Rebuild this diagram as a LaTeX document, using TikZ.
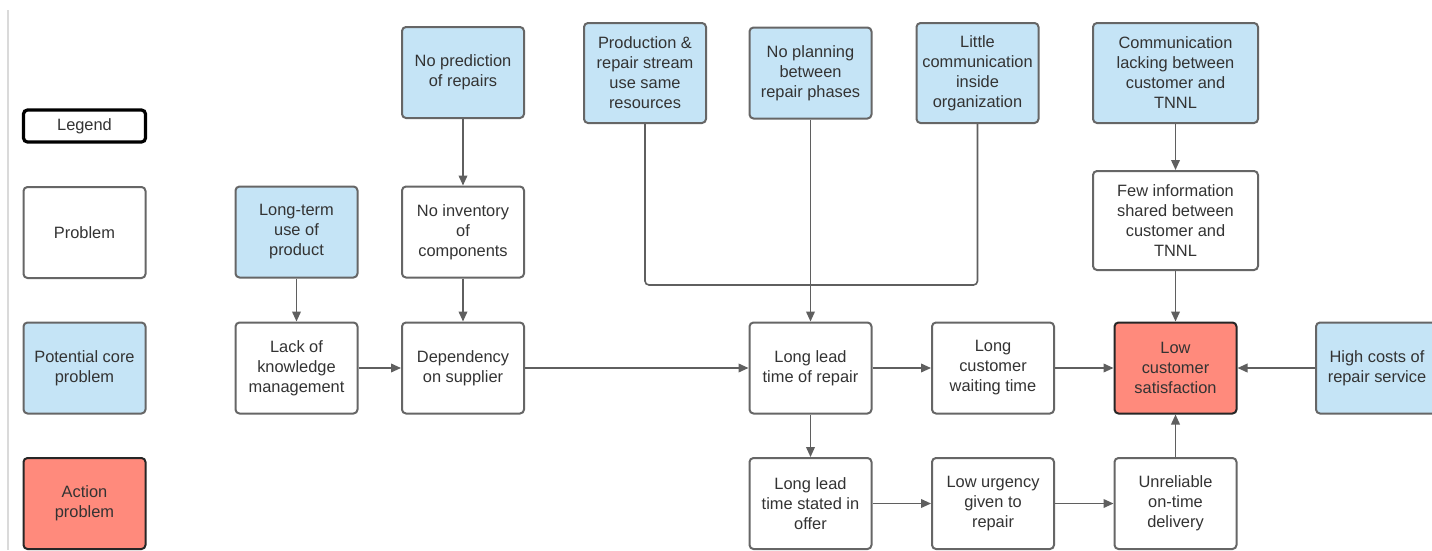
\documentclass[tikz,border=0pt]{standalone}
\usepackage{fontspec}
\setmainfont{Liberation Sans}
\usetikzlibrary{arrows.meta}
\definecolor{edge}{HTML}{666666}
\definecolor{ink}{HTML}{333333}
\definecolor{wire}{HTML}{5F5F5F}
\definecolor{core}{HTML}{C5E4F6}
\definecolor{act}{HTML}{FF8A7C}
\definecolor{rule}{HTML}{DADADA}
\begin{document}
\begin{tikzpicture}[x=0.75pt,y=-0.75pt,
  box/.style={draw=edge, line width=1.5pt, rounded corners=3pt, fill=white,
    minimum width=91.5pt, minimum height=68.25pt, inner sep=0pt,
    align=center, text=ink, font=\fontsize{12.3pt}{15pt}\selectfont},
  corebox/.style={box, fill=core},
  actbox/.style={box, fill=act, draw=black!85},
  legendbox/.style={box, draw=black, line width=2.4pt, minimum height=24pt},
  tall/.style={minimum height=75pt},
  wide/.style={minimum width=123.75pt},
  link/.style={draw=wire, line width=1.2pt, -{Triangle[length=7.5pt,width=6.5pt]}},
  mergeline/.style={draw=wire, line width=1.2pt, rounded corners=3pt}]
\useasboundingbox (0,0) rectangle (1432,550);
\fill[white] (0,0) rectangle (1432,550);
\draw[rule, line width=0.8pt] (8,10) -- (8,550);

% legend column
\node[legendbox] (legend) at (84.5,126) {Legend};
\node[box] (lgprob) at (84.5,232.5) {Problem};
\node[corebox] (lgcore) at (84.5,368) {Potential core\\problem};
\node[actbox] (lgact) at (84.5,503.5) {Action\\problem};

% causes on the left
\node[corebox] (longterm) at (296.5,232) {Long-term\\use of\\product};
\node[box] (lack) at (296.5,368) {Lack of\\knowledge\\management};
\node[corebox] (nopred) at (463,72.5) {No prediction\\of repairs};
\node[box] (noinv) at (463,232) {No inventory\\of\\components};
\node[box] (dep) at (463,368) {Dependency\\on supplier};

% top row of causes
\node[corebox,tall] (prod) at (645,73) {Production \&\\repair stream\\use same\\resources};
\node[corebox] (noplan) at (810.5,73) {No planning\\between\\repair phases};
\node[corebox,tall] (little) at (977.5,73) {Little\\communication\\inside\\organization};
\node[corebox,tall,wide] (commlack) at (1175.5,73) {Communication\\lacking between\\customer and\\TNNL};
\node[box,wide,minimum height=74.25pt] (fewinfo) at (1175.5,220.5) {Few information\\shared between\\customer and\\TNNL};

% main chain
\node[box] (longlead) at (810.5,368) {Long lead\\time of repair};
\node[box] (waiting) at (993,368) {Long\\customer\\waiting time};
\node[actbox] (lowsat) at (1175.5,368) {Low\\customer\\satisfaction};
\node[corebox] (highcost) at (1377,368) {High costs of\\repair service};

% lower chain
\node[box] (offer) at (810.5,503.5) {Long lead\\time stated in\\offer};
\node[box] (urgency) at (993,503.5) {Low urgency\\given to\\repair};
\node[box] (unrel) at (1175.5,503.5) {Unreliable\\on-time\\delivery};

\coordinate (merge) at (810.5,285);

% connectors
\draw[link] (nopred) -- (noinv);
\draw[link] (noinv) -- (dep);
\draw[link] (longterm) -- (lack);
\draw[link] (lack) -- (dep);
\draw[link] (dep) -- (longlead);
\draw[mergeline] (prod.south) |- (merge);
\draw[mergeline] (little.south) |- (merge);
\draw[link] (noplan) -- (longlead);
\draw[link] (longlead) -- (waiting);
\draw[link] (waiting) -- (lowsat);
\draw[link] (highcost) -- (lowsat);
\draw[link] (commlack) -- (fewinfo);
\draw[link] (fewinfo) -- (lowsat);
\draw[link] (unrel) -- (lowsat);
\draw[link] (longlead) -- (offer);
\draw[link] (offer) -- (urgency);
\draw[link] (urgency) -- (unrel);
\end{tikzpicture}
\end{document}
